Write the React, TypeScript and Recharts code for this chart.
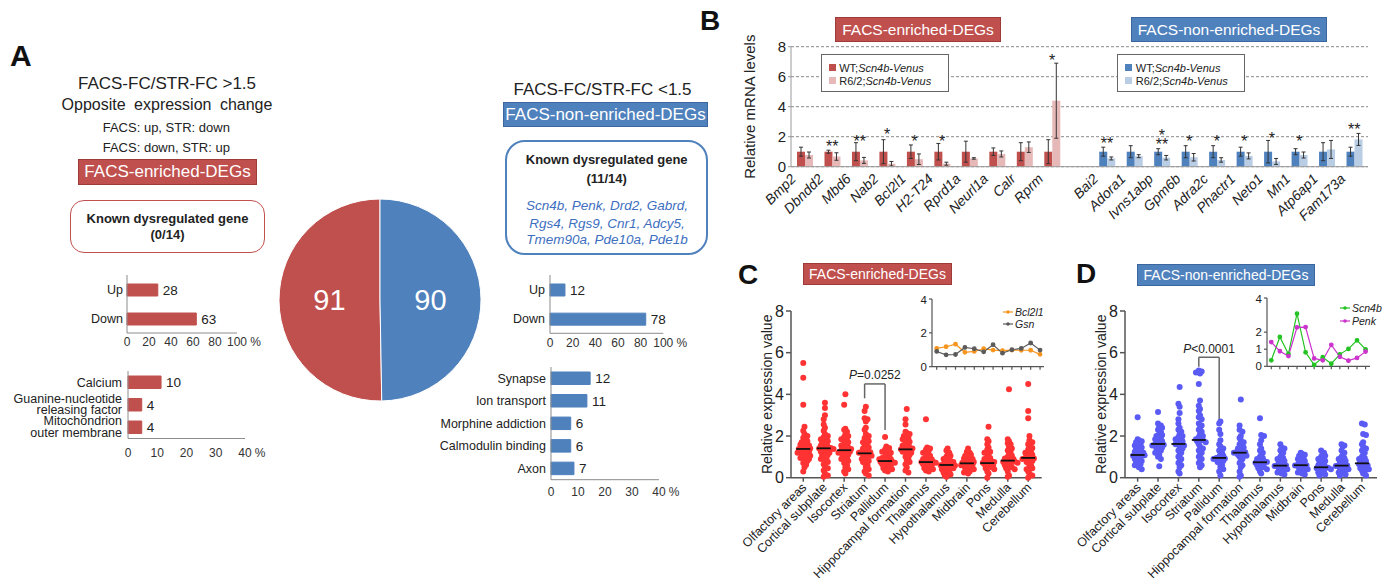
import React from "react";
import {
  BarChart, Bar, XAxis, YAxis, CartesianGrid, ComposedChart, ErrorBar, Cell, LabelList,
  PieChart, Pie, ScatterChart, Scatter, ReferenceLine, LineChart, Line,
} from "recharts";

const RED = "#c0504d";
const RED_LIGHT = "#e6b9b8";
const BLUE = "#4f81bd";
const BLUE_LIGHT = "#b9cde5";
const FONT = '"Liberation Sans", Arial, Helvetica, sans-serif';

// ---------- Panel A ----------
const pieNames = ["FACS-enriched-DEGs", "FACS-non-enriched-DEGs"];
const pieCounts = [91, 90];

const dirNames = ["Up", "Down"];
const enrDirCounts = [28, 63];
const enrDirPct = [28, 63];
const nonDirCounts = [12, 78];
const nonDirPct = [13.2, 84.5];

const enrTerms = ["Calcium", "Guanine-nucleotide\nreleasing factor", "Mitochondrion\nouter membrane"];
const enrTermCounts = [10, 4, 4];
const enrTermPct = [11.3, 4.7, 4.7];
const nonTerms = ["Synapse", "Ion transport", "Morphine addiction", "Calmodulin binding", "Axon"];
const nonTermCounts = [12, 11, 6, 6, 7];
const nonTermPct = [14.5, 13.3, 7.3, 7.3, 8.5];

// ---------- Panel B ----------
const bGenes = ["Bmp2", "Dbndd2", "Mbd6", "Nab2", "Bcl2l1", "H2-T24", "Rprd1a", "Neurl1a", "Calr", "Rprm", "",
  "Bai2", "Adora1", "Ivns1abp", "Gpm6b", "Adra2c", "Phactr1", "Neto1", "Mn1", "Atp6ap1", "Fam173a"];
const bWt = [1, 1, 1, 1, 1, 1, 1, 1, 1, 1, null, 1, 1, 1, 1, 1, 1, 1, 1, 1, 1];
const bWtErr = [0.3, 0.1, 0.6, 0.8, 0.45, 0.55, 0.7, 0.25, 0.6, 0.8, null, 0.3, 0.4, 0.2, 0.4, 0.4, 0.3, 0.75, 0.2, 0.6, 0.3];
const bR62 = [0.78, 0.68, 0.42, 0.2, 0.5, 0.2, 0.55, 0.85, 1.3, 4.4, null, 0.55, 0.7, 0.6, 0.63, 0.45, 0.72, 0.35, 0.78, 1.15, 1.82];
const bR62Err = [0.2, 0.25, 0.2, 0.15, 0.35, 0.1, 0.05, 0.2, 0.35, 2.5, null, 0.1, 0.1, 0.15, 0.25, 0.15, 0.2, 0.2, 0.2, 0.6, 0.4];
const bSig = ["", "**", "**", "*", "*", "*", "", "", "", "*", "", "**", "", "*\n**", "*", "*", "*", "*", "*", "", "**"];
const bSigY = [null, 1.56, 1.89, 2.4, 1.89, 1.9, null, null, null, 7.33, null, 1.78, null, 1.73, 1.93, 1.93, 1.93, 2.11, 1.93, null, 2.71];

// ---------- Panels C / D ----------
const regions = ["Olfactory areas", "Cortical subplate", "Isocortex", "Striatum", "Pallidum", "Hippocampal formation",
  "Thalamus", "Hypothalamus", "Midbrain", "Pons", "Medulla", "Cerebellum"];

const cOlfactory = [5.5, 4.8, 3.5, 2.45, 2.25, 2.1, 2.0, 1.92, 1.85, 1.8, 1.75, 1.7, 1.65, 1.6, 1.58, 1.55, 1.5, 1.45, 1.42, 1.4, 1.38, 1.35, 1.3, 1.28, 1.25, 1.2, 1.18, 1.15, 1.1, 1.05, 1.0, 0.98, 0.95, 0.9, 0.85, 0.8, 0.7, 0.62, 0.5, 0.3];
const cCortical = [3.6, 3.35, 3.0, 2.8, 2.55, 2.4, 2.25, 2.1, 2.0, 1.95, 1.9, 1.85, 1.8, 1.75, 1.7, 1.65, 1.6, 1.55, 1.5, 1.48, 1.45, 1.42, 1.4, 1.38, 1.35, 1.3, 1.25, 1.2, 1.15, 1.1, 1.05, 1.0, 0.95, 0.9, 0.85, 0.75, 0.65, 0.55, 0.45, 0.35, 0.2, 0.1, 0.05];
const cIsocortex = [4.0, 3.5, 2.35, 2.3, 2.2, 2.1, 2.0, 1.95, 1.9, 1.85, 1.8, 1.7, 1.65, 1.6, 1.55, 1.5, 1.45, 1.4, 1.38, 1.35, 1.32, 1.3, 1.25, 1.2, 1.15, 1.1, 1.05, 1.0, 0.95, 0.9, 0.85, 0.8, 0.7, 0.6, 0.5, 0.4, 0.3, 0.2];
const cStriatum = [3.4, 3.2, 2.85, 2.8, 2.7, 2.4, 2.3, 2.1, 2.0, 1.9, 1.85, 1.8, 1.75, 1.7, 1.6, 1.55, 1.5, 1.45, 1.4, 1.35, 1.3, 1.25, 1.22, 1.2, 1.18, 1.15, 1.1, 1.05, 1.0, 0.95, 0.9, 0.85, 0.8, 0.75, 0.7, 0.6, 0.5, 0.4, 0.3, 0.2, 0.1];
const cPallidum = [1.95, 1.5, 1.42, 1.35, 1.3, 1.25, 1.2, 1.12, 1.05, 1.0, 0.98, 0.95, 0.9, 0.88, 0.85, 0.82, 0.8, 0.78, 0.75, 0.72, 0.7, 0.68, 0.65, 0.6, 0.55, 0.5, 0.45, 0.4, 0.35, 0.3];
const cHippocampal = [3.3, 2.8, 2.55, 2.2, 2.15, 2.1, 2.0, 1.95, 1.9, 1.85, 1.8, 1.72, 1.65, 1.6, 1.55, 1.5, 1.45, 1.42, 1.4, 1.36, 1.32, 1.3, 1.25, 1.2, 1.15, 1.1, 1.0, 0.95, 0.85, 0.75, 0.65, 0.5, 0.35, 0.25];
const cThalamus = [2.8, 1.45, 1.4, 1.35, 1.3, 1.2, 1.12, 1.05, 1.0, 0.95, 0.9, 0.88, 0.85, 0.82, 0.8, 0.78, 0.75, 0.72, 0.7, 0.68, 0.65, 0.6, 0.55, 0.5, 0.45, 0.4, 0.35, 0.3];
const cHypothalamus = [1.4, 1.3, 1.2, 1.1, 1.05, 1.0, 0.95, 0.9, 0.85, 0.8, 0.78, 0.75, 0.7, 0.68, 0.65, 0.62, 0.6, 0.58, 0.55, 0.52, 0.5, 0.45, 0.4, 0.35, 0.3, 0.25, 0.2, 0.15, 0.1, 0.05];
const cMidbrain = [1.4, 1.25, 1.2, 1.15, 1.1, 1.05, 1.0, 0.95, 0.92, 0.9, 0.85, 0.82, 0.8, 0.75, 0.72, 0.7, 0.68, 0.65, 0.62, 0.6, 0.55, 0.5, 0.45, 0.4, 0.35, 0.3, 0.25, 0.2];
const cPons = [2.45, 1.85, 1.75, 1.6, 1.45, 1.35, 1.25, 1.2, 1.1, 1.0, 0.95, 0.9, 0.85, 0.8, 0.78, 0.75, 0.72, 0.7, 0.68, 0.65, 0.6, 0.55, 0.5, 0.45, 0.4, 0.3, 0.2, 0.0];
const cMedulla = [4.25, 1.85, 1.75, 1.65, 1.6, 1.5, 1.4, 1.3, 1.2, 1.12, 1.05, 1.0, 0.95, 0.92, 0.9, 0.85, 0.82, 0.8, 0.78, 0.75, 0.72, 0.7, 0.65, 0.6, 0.55, 0.5, 0.45, 0.4, 0.3, 0.1, 0.05];
const cCerebellum = [4.5, 3.2, 2.85, 2.0, 1.8, 1.7, 1.6, 1.5, 1.42, 1.35, 1.3, 1.2, 1.15, 1.1, 1.05, 1.0, 0.98, 0.95, 0.92, 0.9, 0.85, 0.8, 0.75, 0.7, 0.6, 0.5, 0.45, 0.4, 0.3, 0.2, 0.1, 0.0];
const cMedians = [1.38, 1.41, 1.32, 1.17, 0.8, 1.36, 0.75, 0.61, 0.69, 0.7, 0.82, 0.95];
const cBracket = [3.81, 4.5, 2.29]; // left foot, top, right foot

const dOlfactory = [2.9, 1.85, 1.8, 1.75, 1.7, 1.65, 1.6, 1.55, 1.5, 1.45, 1.4, 1.35, 1.3, 1.25, 1.2, 1.15, 1.12, 1.1, 1.08, 1.05, 1.0, 0.95, 0.9, 0.85, 0.8, 0.75, 0.7, 0.65, 0.6, 0.5, 0.4];
const dCortical = [3.15, 2.6, 2.5, 2.45, 2.4, 2.3, 2.2, 2.1, 2.05, 2.0, 1.95, 1.9, 1.85, 1.8, 1.75, 1.7, 1.65, 1.62, 1.6, 1.58, 1.55, 1.5, 1.45, 1.4, 1.35, 1.3, 1.2, 1.1, 1.0, 0.9, 0.55];
const dIsocortex = [4.35, 3.55, 3.4, 3.1, 2.8, 2.6, 2.4, 2.3, 2.2, 2.1, 2.0, 1.95, 1.9, 1.85, 1.8, 1.75, 1.7, 1.65, 1.62, 1.6, 1.55, 1.5, 1.4, 1.3, 1.2, 1.1, 1.0, 0.9, 0.8, 0.7, 0.6, 0.5, 0.3, 0.2];
const dStriatum = [5.15, 5.1, 5.05, 5.0, 4.5, 3.7, 3.45, 3.3, 3.2, 3.0, 2.9, 2.8, 2.6, 2.5, 2.4, 2.3, 2.2, 2.1, 2.0, 1.95, 1.9, 1.85, 1.82, 1.8, 1.75, 1.7, 1.6, 1.5, 1.4, 1.3, 1.2, 1.1, 1.0, 0.9, 0.8, 0.7, 0.6, 0.5];
const dPallidum = [2.7, 2.6, 2.3, 2.1, 1.8, 1.6, 1.5, 1.4, 1.3, 1.2, 1.1, 1.05, 1.0, 0.98, 0.95, 0.92, 0.9, 0.85, 0.8, 0.75, 0.7, 0.6, 0.5, 0.4, 0.3, 0.1];
const dHippocampal = [3.75, 2.5, 2.3, 2.2, 2.0, 1.9, 1.8, 1.7, 1.6, 1.5, 1.45, 1.4, 1.35, 1.3, 1.25, 1.22, 1.2, 1.18, 1.15, 1.1, 1.05, 1.0, 0.9, 0.8, 0.7, 0.6, 0.5, 0.3, 0.1, 0.05];
const dThalamus = [2.85, 2.05, 2.0, 1.8, 1.6, 1.4, 1.3, 1.2, 1.1, 1.0, 0.95, 0.9, 0.85, 0.8, 0.78, 0.75, 0.72, 0.7, 0.65, 0.6, 0.55, 0.5, 0.45, 0.4, 0.3, 0.2];
const dHypothalamus = [1.6, 1.45, 1.4, 1.3, 1.2, 1.1, 1.0, 0.95, 0.9, 0.85, 0.8, 0.75, 0.7, 0.65, 0.6, 0.58, 0.56, 0.55, 0.5, 0.45, 0.4, 0.35, 0.3, 0.25, 0.2, 0.15];
const dMidbrain = [1.2, 1.15, 1.1, 1.05, 1.0, 0.95, 0.9, 0.85, 0.8, 0.75, 0.7, 0.65, 0.62, 0.6, 0.58, 0.55, 0.5, 0.45, 0.4, 0.35, 0.3, 0.25, 0.2, 0.15];
const dPons = [1.3, 1.2, 1.1, 1.05, 1.0, 0.95, 0.9, 0.85, 0.8, 0.75, 0.7, 0.65, 0.6, 0.55, 0.52, 0.5, 0.48, 0.45, 0.4, 0.35, 0.3, 0.25, 0.2, 0.15, 0.1];
const dMedulla = [1.6, 1.55, 1.5, 1.3, 1.2, 1.1, 1.0, 0.95, 0.9, 0.85, 0.8, 0.75, 0.7, 0.65, 0.6, 0.58, 0.56, 0.55, 0.5, 0.45, 0.4, 0.35, 0.3, 0.25, 0.2, 0.15, 0.1];
const dCerebellum = [2.6, 2.55, 2.1, 2.05, 1.7, 1.6, 1.5, 1.4, 1.3, 1.2, 1.1, 1.0, 0.95, 0.9, 0.85, 0.8, 0.75, 0.7, 0.68, 0.65, 0.6, 0.55, 0.5, 0.45, 0.4, 0.35, 0.3, 0.2, 0.1];
const dMedians = [1.09, 1.62, 1.62, 1.81, 0.95, 1.2, 0.74, 0.58, 0.6, 0.5, 0.58, 0.69];
const dBracket = [5.33, 5.78, 2.8];

// insets (same 12 regions)
const insetBcl2l1 = [1.08, 1.18, 1.33, 0.85, 0.9, 1.06, 0.98, 0.95, 0.98, 0.97, 0.97, 0.73];
const insetGsn = [0.9, 0.7, 0.72, 1.14, 1.06, 0.88, 1.3, 0.8, 1.0, 1.08, 1.4, 0.98];
const insetScn4b = [0.35, 1.72, 0.72, 3.08, 0.82, 0.08, 0.53, 0.15, 0.7, 1.02, 1.52, 0.99];
const insetPenk = [1.42, 0.88, 0.6, 2.28, 2.3, 0.46, 0.35, 1.26, 0.56, 0.33, 0.49, 0.86];

// ---------- helpers ----------
function swarm(groups: number[][]) {
  const out: { x: number; y: number }[] = [];
  groups.forEach((vals, gi) => {
    const used: Record<number, number> = {};
    vals.forEach((v) => {
      const bin = Math.round(v / 0.16);
      const k = used[bin] ?? 0;
      used[bin] = k + 1;
      const slot = k === 0 ? 0 : (k % 2 === 1 ? 1 : -1) * Math.ceil(k / 2);
      const s = Math.max(-3, Math.min(3, slot));
      out.push({ x: gi + s * 0.14 + (bin % 2 ? 0.06 : 0), y: v });
    });
  });
  return out;
}

function T({ x, y, size, bold, italic, color = "#222", align = "center", children, style }: any) {
  const w = 400;
  const left = align === "center" ? x - w / 2 : align === "right" ? x - w : x;
  return (
    <div
      style={{
        position: "absolute", left, top: y - size / 2, width: w, textAlign: align,
        fontSize: size, lineHeight: `${size}px`, fontWeight: bold ? 700 : 400,
        fontStyle: italic ? "italic" : "normal", color, whiteSpace: "nowrap", ...style,
      }}
    >
      {children}
    </div>
  );
}

function TitleBox({ left, top, width, height, color, border, size, children }: any) {
  return (
    <div
      style={{
        position: "absolute", left, top, width, height, background: color, border: `1px solid ${border}`,
        boxSizing: "border-box", color: "#fff", fontSize: size, lineHeight: `${height - 2}px`, textAlign: "center",
        whiteSpace: "nowrap",
      }}
    >
      {children}
    </div>
  );
}

function PctTick(props: any) {
  const { x, y, payload, max } = props;
  const v = payload.value;
  return (
    <g>
      <text x={x} y={y} dy={9} textAnchor="middle" fontSize={12} fill="#333">{v}</text>
      {v === max && (
        <text x={x + String(v).length * 3.4 + 3} y={y} dy={9} fontSize={12} fill="#333">%</text>
      )}
    </g>
  );
}

function CatTick(props: any) {
  const { x, y, payload } = props;
  const lines = String(payload.value).split("\n");
  const lh = 11.5;
  return (
    <text x={x} y={y} textAnchor="end" fontSize={12.5} fill="#222">
      {lines.map((l, i) => (
        <tspan key={i} x={x} dy={i === 0 ? -((lines.length - 1) * lh) / 2 + 4.5 - (lines.length - 1) : lh}>{l}</tspan>
      ))}
    </text>
  );
}

function HBars({ names, pct, counts, color, max, ticks, left, top, axisW, plotW, plotH, labelGap, tickGap, barSize }: any) {
  const data = names.map((name: string, i: number) => ({ name, pct: pct[i], count: counts[i] }));
  return (
    <div style={{ position: "absolute", left, top }}>
      <BarChart
        width={axisW + plotW + 34} height={5 + plotH + 24} layout="vertical" data={data}
        margin={{ top: 5, right: 34, bottom: 0, left: 0 }} barSize={barSize}
      >
        <XAxis
          type="number" domain={[0, max]} ticks={ticks} height={24} interval={0}
          axisLine={{ stroke: "#8c8c8c" }} tickLine={false} tickSize={0} tickMargin={tickGap}
          tick={<PctTick max={max} />}
        />
        <YAxis
          type="category" dataKey="name" width={axisW} interval={0}
          axisLine={{ stroke: "#8c8c8c" }} tickLine={false} tickSize={0} tickMargin={labelGap}
          tick={<CatTick />}
        />
        <Bar dataKey="pct" fill={color} stroke={color} isAnimationActive={false}>
          <LabelList dataKey="count" position="right" offset={5} fontSize={13.5} fill="#222" />
        </Bar>
      </BarChart>
    </div>
  );
}

const RAD = Math.PI / 180;
function pieLabel(p: any) {
  const r = p.outerRadius * 0.5;
  const x = p.cx + r * Math.cos(-p.midAngle * RAD);
  const y = p.cy + r * Math.sin(-p.midAngle * RAD);
  return (
    <text x={x} y={y} dy={10} textAnchor="middle" fontSize={29} fill="#fff">{p.value}</text>
  );
}

function GeneTick(props: any) {
  const { x, y, payload } = props;
  return (
    <g transform={`translate(${x - 8},${y + 13})`}>
      <text textAnchor="end" transform="rotate(-45)" fontSize={14} fontStyle="italic" fill="#222">
        {payload.value}
      </text>
    </g>
  );
}

function SigMark(props: any) {
  const { cx, cy, payload } = props;
  if (!payload || !payload.sig || !Number.isFinite(cy)) return <g />;
  const lines = payload.sig.split("\n");
  return (
    <text x={cx} y={cy + 9} textAnchor="middle" fontSize={16} fill="#222">
      {lines.map((l: string, i: number) => (
        <tspan key={i} x={cx} dy={i === 0 ? -(lines.length - 1) * 8.5 : 8.5}>{l}</tspan>
      ))}
    </text>
  );
}

function BLegend({ left, top, dark, light }: any) {
  const row = (color: string, prefix: string, cy: number) => (
    <>
      <div style={{ position: "absolute", left: 7, top: cy - 3.5, width: 7, height: 7, background: color }} />
      <div style={{ position: "absolute", left: 17.5, top: cy - 6, fontSize: 11, lineHeight: "12px", whiteSpace: "nowrap", color: "#222" }}>
        {prefix};<i>Scn4b-Venus</i>
      </div>
    </>
  );
  return (
    <div style={{ position: "absolute", left, top, width: 128, height: 38, border: "1px solid #666", boxSizing: "border-box", background: "#fff" }}>
      {row(dark, "WT", 12.4)}
      {row(light, "R6/2", 25.7)}
    </div>
  );
}

function RegionTick(props: any) {
  const { x, y, payload } = props;
  const name = regions[payload.value] ?? "";
  return (
    <g transform={`translate(${x + 4},${y + 6.5})`}>
      <text textAnchor="end" transform="rotate(-45)" fontSize={12.5} fill="#222">{name}</text>
    </g>
  );
}

const dotShape = (color: string) => (p: any) => <circle cx={p.cx} cy={p.cy} r={3} fill={color} />;
const medianShape = (p: any) => (
  <line x1={p.cx - 7} x2={p.cx + 7} y1={p.cy} y2={p.cy} stroke="#111" strokeWidth={1.8} />
);
const pShape = (p: any) => (
  <text x={p.cx} y={p.cy - 4.5} textAnchor="middle" fontSize={12} fill="#222">
    <tspan fontStyle="italic">P</tspan>{p.payload.label}
  </text>
);

function ExprPanel({ left, groups, medians, bracket, pLabel, color, domain, width, plotW }: any) {
  const pts = swarm(groups);
  const med = medians.map((m: number, i: number) => ({ x: i, y: m }));
  const axisStyle = { stroke: "#555", strokeWidth: 1.5 };
  const [lf, tp, rf] = bracket;
  return (
    <div style={{ position: "absolute", left, top: 300 }}>
      <ScatterChart width={width} height={281} margin={{ top: 11, right: width - 71 - plotW, bottom: 1, left: 0 }}>
        <XAxis
          type="number" dataKey="x" domain={domain} ticks={regions.map((_, i) => i)} interval={0}
          height={102.3} tickSize={4} tickMargin={0} axisLine={axisStyle} tickLine={axisStyle}
          tick={<RegionTick />}
        />
        <YAxis
          type="number" dataKey="y" domain={[0, 8]} ticks={[0, 2, 4, 6, 8]} width={71} tickSize={5} tickMargin={2}
          axisLine={axisStyle} tickLine={axisStyle} tick={{ fontSize: 16, fill: "#222" }}
          label={{ value: "Relative expression value", angle: -90, position: "insideLeft", offset: 47, style: { textAnchor: "middle", fontSize: 14, fill: "#222" } }}
        />
        <ReferenceLine segment={[{ x: 3, y: lf }, { x: 3, y: tp }]} stroke="#666" strokeWidth={1.5} />
        <ReferenceLine segment={[{ x: 3, y: tp }, { x: 4, y: tp }]} stroke="#666" strokeWidth={1.5} />
        <ReferenceLine segment={[{ x: 4, y: tp }, { x: 4, y: rf }]} stroke="#666" strokeWidth={1.5} />
        <Scatter data={pts} shape={dotShape(color)} isAnimationActive={false} />
        <Scatter data={med} shape={medianShape} isAnimationActive={false} />
        <Scatter data={[{ x: 3.5, y: tp, label: pLabel }]} shape={pShape} isAnimationActive={false} />
      </ScatterChart>
    </div>
  );
}

function Inset({ left, top, height, width, a, b, colorA, colorB, domain }: any) {
  const data = a.map((v: number, i: number) => ({ i, a: v, b: b[i] }));
  const axisStyle = { stroke: "#555", strokeWidth: 1.2 };
  return (
    <div style={{ position: "absolute", left, top }}>
      <LineChart width={width} height={height} data={data} margin={{ top: 5, right: 0, bottom: 0, left: 0 }}>
        <XAxis type="number" dataKey="i" domain={domain} ticks={a.map((_: number, i: number) => i)} interval={0}
          height={6} tickSize={3} tickMargin={0} axisLine={axisStyle} tickLine={axisStyle} tickFormatter={() => ""} />
        <YAxis type="number" domain={[0, 4]} ticks={[0, 1, 2, 3, 4]} width={22} tickSize={3} tickMargin={2}
          axisLine={axisStyle} tickLine={axisStyle} tick={{ fontSize: 11.5, fill: "#222" }} />
        <Line dataKey="a" stroke={colorA} strokeWidth={1.2} dot={{ r: 1.8, fill: colorA, stroke: colorA }} isAnimationActive={false} />
        <Line dataKey="b" stroke={colorB} strokeWidth={1.2} dot={{ r: 1.8, fill: colorB, stroke: colorB }} isAnimationActive={false} />
      </LineChart>
    </div>
  );
}

function InsetLegend({ left, top, items }: any) {
  return (
    <>
      {items.map((it: any, k: number) => (
        <div key={k} style={{ position: "absolute", left, top: top + k * 12.5 - 6, height: 12, whiteSpace: "nowrap" }}>
          <svg width={12} height={12} style={{ position: "absolute", left: 0, top: 0 }}>
            <line x1={0} x2={10} y1={6} y2={6} stroke={it.color} strokeWidth={1.2} />
            <circle cx={5} cy={6} r={1.8} fill={it.color} />
          </svg>
          <span style={{ position: "absolute", left: 12, top: 0, fontSize: 10.5, lineHeight: "12px", fontStyle: "italic", color: "#222" }}>
            {it.name}
          </span>
        </div>
      ))}
    </>
  );
}

export default function App() {
  const pieData = pieNames.map((name, i) => ({ name, value: pieCounts[i] }));
  const bData = bGenes.map((gene, i) => ({
    gene, wt: bWt[i], wtErr: bWtErr[i], r62: bR62[i], r62Err: bR62Err[i], sig: bSig[i], sigY: bSigY[i],
  }));
  const bAxis = { stroke: "#9a9a9a" };

  return (
    <div style={{ position: "fixed", left: 0, top: 0, width: 1382, height: 581, background: "#fff", fontFamily: FONT, overflow: "hidden", color: "#222" }}>
      {/* ---------- Panel A ---------- */}
      <T x={10} y={56} size={30} bold align="left" color="#111">A</T>
      <T x={167} y={83.5} size={17}>FACS-FC/STR-FC &gt;1.5</T>
      <T x={167} y={105} size={16} style={{ wordSpacing: 4 }}>Opposite expression change</T>
      <T x={166.3} y={127.5} size={13}>FACS: up, STR: down</T>
      <T x={166.3} y={147} size={13}>FACS: down, STR: up</T>
      <TitleBox left={78} top={159} width={179} height={26} color={RED} border="#9e3b38" size={17}>FACS-enriched-DEGs</TitleBox>
      <div style={{ position: "absolute", left: 70, top: 200, width: 195, height: 53, border: `1.5px solid ${RED}`, borderRadius: 14, boxSizing: "border-box" }} />
      <T x={167.5} y={218.3} size={13} bold>Known dysregulated gene</T>
      <T x={167.5} y={234} size={13} bold>(0/14)</T>

      <HBars names={dirNames} pct={enrDirPct} counts={enrDirCounts} color={RED} max={100} ticks={[0, 20, 40, 60, 80, 100]}
        left={30} top={270} axisW={97} plotW={110} plotH={58} labelGap={4} tickGap={4} barSize={12} />
      <HBars names={enrTerms} pct={enrTermPct} counts={enrTermCounts} color={RED} max={40} ticks={[0, 10, 20, 30, 40]}
        left={6} top={366} axisW={122} plotW={117} plotH={67.5} labelGap={6} tickGap={9} barSize={12.5} />

      <div style={{ position: "absolute", left: 270, top: 190 }}>
        <PieChart width={220} height={220} margin={{ top: 0, right: 0, bottom: 0, left: 0 }}>
          <Pie data={pieData} dataKey="value" nameKey="name" cx={110} cy={110} outerRadius={101}
            startAngle={90} endAngle={450} stroke="#fff" strokeWidth={1}
            label={pieLabel} labelLine={false} isAnimationActive={false}>
            {pieData.map((d, i) => <Cell key={d.name} fill={[RED, BLUE][i]} />)}
          </Pie>
        </PieChart>
      </div>

      <T x={602.5} y={89.3} size={17}>FACS-FC/STR-FC &lt;1.5</T>
      <TitleBox left={503} top={101.5} width={205} height={25.5} color={BLUE} border="#3b679e" size={17}>FACS-non-enriched-DEGs</TitleBox>
      <div style={{ position: "absolute", left: 505, top: 140, width: 203, height: 115, border: `2px solid ${BLUE}`, borderRadius: 20, boxSizing: "border-box" }} />
      <T x={606.7} y={159.3} size={13} bold>Known dysregulated gene</T>
      <T x={606.7} y={178} size={13} bold>(11/14)</T>
      <T x={607} y={206} size={13.5} italic color="#3e6fc0">Scn4b, Penk, Drd2, Gabrd,</T>
      <T x={607} y={223.3} size={13.5} italic color="#3e6fc0">Rgs4, Rgs9, Cnr1, Adcy5,</T>
      <T x={607} y={240} size={13.5} italic color="#3e6fc0">Tmem90a, Pde10a, Pde1b</T>

      <HBars names={dirNames} pct={nonDirPct} counts={nonDirCounts} color={BLUE} max={100} ticks={[0, 20, 40, 60, 80, 100]}
        left={420} top={270} axisW={130} plotW={113.3} plotH={58.3} labelGap={5} tickGap={5} barSize={12} />
      <HBars names={nonTerms} pct={nonTermPct} counts={nonTermCounts} color={BLUE} max={40} ticks={[0, 10, 20, 30, 40]}
        left={400} top={362.3} axisW={151} plotW={108} plotH={112.7} labelGap={5} tickGap={7} barSize={12.5} />

      {/* ---------- Panel B ---------- */}
      <T x={700} y={21} size={28} bold align="left" color="#111">B</T>
      <div style={{ position: "absolute", left: 700, top: 20 }}>
        <ComposedChart width={682} height={210} data={bData} margin={{ top: 26.7, right: 14, bottom: 0, left: 0 }} barGap={0} barSize={8}>
          <CartesianGrid vertical={false} strokeDasharray="3 2" stroke="#8a8a8a" />
          <XAxis dataKey="gene" interval={0} tickLine={false} tickSize={0} tickMargin={0} axisLine={bAxis} height={63.3} tick={<GeneTick />} />
          <YAxis domain={[0, 8]} ticks={[0, 2, 4, 6, 8]} width={91} tickSize={3} tickMargin={2} axisLine={bAxis} tickLine={bAxis}
            tick={{ fontSize: 15, fill: "#222" }}
            label={{ value: "Relative mRNA levels", angle: -90, position: "insideLeft", offset: 50, style: { textAnchor: "middle", fontSize: 15, fill: "#222" } }} />
          <Bar dataKey="wt" isAnimationActive={false}>
            {bData.map((d, i) => <Cell key={i} fill={i < 10 ? RED : BLUE} />)}
            <ErrorBar dataKey="wtErr" width={2} stroke="#333" strokeWidth={1} />
          </Bar>
          <Bar dataKey="r62" isAnimationActive={false}>
            {bData.map((d, i) => <Cell key={i} fill={i < 10 ? RED_LIGHT : BLUE_LIGHT} />)}
            <ErrorBar dataKey="r62Err" width={2} stroke="#333" strokeWidth={1} />
          </Bar>
          <Scatter dataKey="sigY" shape={<SigMark />} isAnimationActive={false} />
        </ComposedChart>
      </div>
      <TitleBox left={835} top={17} width={166} height={25} color={RED} border="#9e3b38" size={15.5}>FACS-enriched-DEGs</TitleBox>
      <TitleBox left={1131} top={17} width={196} height={25} color={BLUE} border="#3b679e" size={15.5}>FACS-non-enriched-DEGs</TitleBox>
      <BLegend left={820.7} top={54.3} dark={RED} light={RED_LIGHT} />
      <BLegend left={1117.3} top={54.3} dark={BLUE} light={BLUE_LIGHT} />

      {/* ---------- Panel C ---------- */}
      <ExprPanel left={720} width={330} plotW={250.7} domain={[-0.6, 11.66]} color="#ff3333" medians={cMedians} bracket={cBracket} pLabel="=0.0252"
        groups={[cOlfactory, cCortical, cIsocortex, cStriatum, cPallidum, cHippocampal, cThalamus, cHypothalamus, cMidbrain, cPons, cMedulla, cCerebellum]} />
      <T x={738} y={275} size={28} bold align="left" color="#111">C</T>
      <TitleBox left={803} top={263} width={149} height={22} color={RED} border="#9e3b38" size={14}>FACS-enriched-DEGs</TitleBox>
      <Inset left={909.7} top={294} width={134.3} height={78.7} a={insetBcl2l1} b={insetGsn} colorA="#f7941d" colorB="#5a5a5a" domain={[-0.5, 11.45]} />
      <InsetLegend left={1003} top={311.7} items={[{ name: "Bcl2l1", color: "#f7941d" }, { name: "Gsn", color: "#5a5a5a" }]} />

      {/* ---------- Panel D ---------- */}
      <ExprPanel left={1054} width={328} plotW={252} domain={[-0.62, 11.74]} color="#5a5af5" medians={dMedians} bracket={dBracket} pLabel="<0.0001"
        groups={[dOlfactory, dCortical, dIsocortex, dStriatum, dPallidum, dHippocampal, dThalamus, dHypothalamus, dMidbrain, dPons, dMedulla, dCerebellum]} />
      <T x={1076} y={274} size={28} bold align="left" color="#111">D</T>
      <TitleBox left={1137} top={264} width={178} height={22} color={BLUE} border="#3b679e" size={14}>FACS-non-enriched-DEGs</TitleBox>
      <Inset left={1244.7} top={292.7} width={125.3} height={79.3} a={insetScn4b} b={insetPenk} colorA="#22c322" colorB="#cc33cc" domain={[-0.5, 11.55]} />
      <InsetLegend left={1340} top={308.3} items={[{ name: "Scn4b", color: "#22c322" }, { name: "Penk", color: "#cc33cc" }]} />
    </div>
  );
}
